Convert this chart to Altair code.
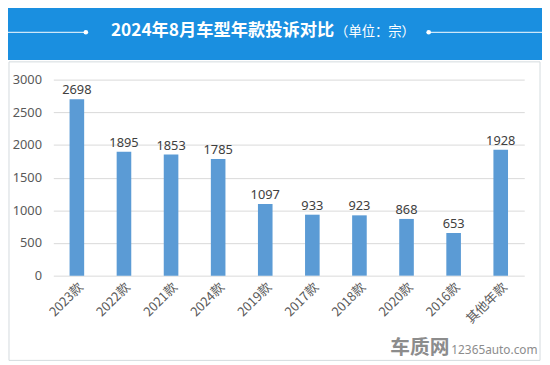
import altair as alt
import pandas as pd

categories = ["2023款", "2022款", "2021款", "2024款", "2019款", "2017款", "2018款", "2020款", "2016款", "其他年款"]
values = [2698, 1895, 1853, 1785, 1097, 933, 923, 868, 653, 1928]
y_ticks = [0, 500, 1000, 1500, 2000, 2500, 3000]
title_main = "2024年8月车型年款投诉对比"
title_unit = "（单位：宗）"
brand = "车质网"
site = "12365auto.com"

FONT = "Noto Sans CJK SC"
NUM_FONT = "Noto Sans"
df = pd.DataFrame({"cat": categories, "val": values})
one = pd.DataFrame({"a": [0]})

x_enc = alt.X("cat:N", sort=None, title=None,
              scale=alt.Scale(paddingInner=0.69, paddingOuter=0.345),
              axis=alt.Axis(labelAngle=-45, labelFontSize=13, labelColor="#595959",
                            labelFont=FONT, ticks=False, domain=False, grid=False,
                            labelPadding=5, labelOverlap=False))
y_enc = alt.Y("val:Q", title=None,
              scale=alt.Scale(domain=[0, 3000], nice=False),
              axis=alt.Axis(values=y_ticks, format="d", labelFontSize=13, labelColor="#595959",
                            labelFont=NUM_FONT, ticks=False, domain=False, labelOverlap=False,
                            gridColor="#d9d9d9", gridWidth=1, labelPadding=12))

base = alt.Chart(df)

frame = alt.Chart(one).mark_rect(fillOpacity=0, stroke="#d3dadd", strokeWidth=1).encode(
    x=alt.value(-45), x2=alt.value(494), y=alt.value(-18), y2=alt.value(285))

banner = alt.Chart(one).mark_rect(fill="#1a8fe0").encode(
    x=alt.value(-60), x2=alt.value(520), y=alt.value(-80), y2=alt.value(-20))

line_left = alt.Chart(one).mark_rule(color="white", strokeWidth=1).encode(
    x=alt.value(-60), x2=alt.value(33), y=alt.value(-48))
line_right = alt.Chart(one).mark_rule(color="white", strokeWidth=1).encode(
    x=alt.value(381), x2=alt.value(520), y=alt.value(-48))
dot_left = alt.Chart(one).mark_point(filled=True, color="white", size=22, opacity=1).encode(
    x=alt.value(33), y=alt.value(-48))
dot_right = alt.Chart(one).mark_point(filled=True, color="white", size=22, opacity=1).encode(
    x=alt.value(381), y=alt.value(-48))

t_main = alt.Chart(one).mark_text(font=FONT, fontSize=17.5, fontWeight="bold", color="white",
                                  align="right", baseline="middle").encode(
    x=alt.value(285), y=alt.value(-49), text=alt.value(title_main))
t_unit = alt.Chart(one).mark_text(font=FONT, fontSize=13.5, color="white",
                                  align="left", baseline="middle").encode(
    x=alt.value(286), y=alt.value(-48), text=alt.value(title_unit))

bars = base.mark_bar(color="#5b9bd5").encode(x=x_enc, y=y_enc)
labels = base.mark_text(font=NUM_FONT, fontSize=13, color="#404040", dy=-9, baseline="middle").encode(
    x=x_enc, y=y_enc, text="val:Q")

wm_brand = alt.Chart(one).mark_text(font=FONT, fontSize=20, fontWeight="bold", color="#8c8c8c",
                                    align="center", baseline="middle").encode(
    x=alt.value(372), y=alt.value(273), text=alt.value(brand))
wm_site = alt.Chart(one).mark_text(font=NUM_FONT, fontSize=12, color="#8c8c8c",
                                   align="left", baseline="middle").encode(
    x=alt.value(404), y=alt.value(275), text=alt.value(site))

chart = alt.layer(banner, frame, line_left, line_right, dot_left, dot_right, t_main, t_unit,
                  bars, labels, wm_brand, wm_site).properties(
    width=478, height=199,
    padding={"left": 46, "top": 70, "right": 18, "bottom": 88},
    autosize=alt.AutoSizeParams(type="none"),
    background="white",
).configure_view(stroke=None)

chart.save("out.html", embed_options={"renderer": "svg", "actions": False})
